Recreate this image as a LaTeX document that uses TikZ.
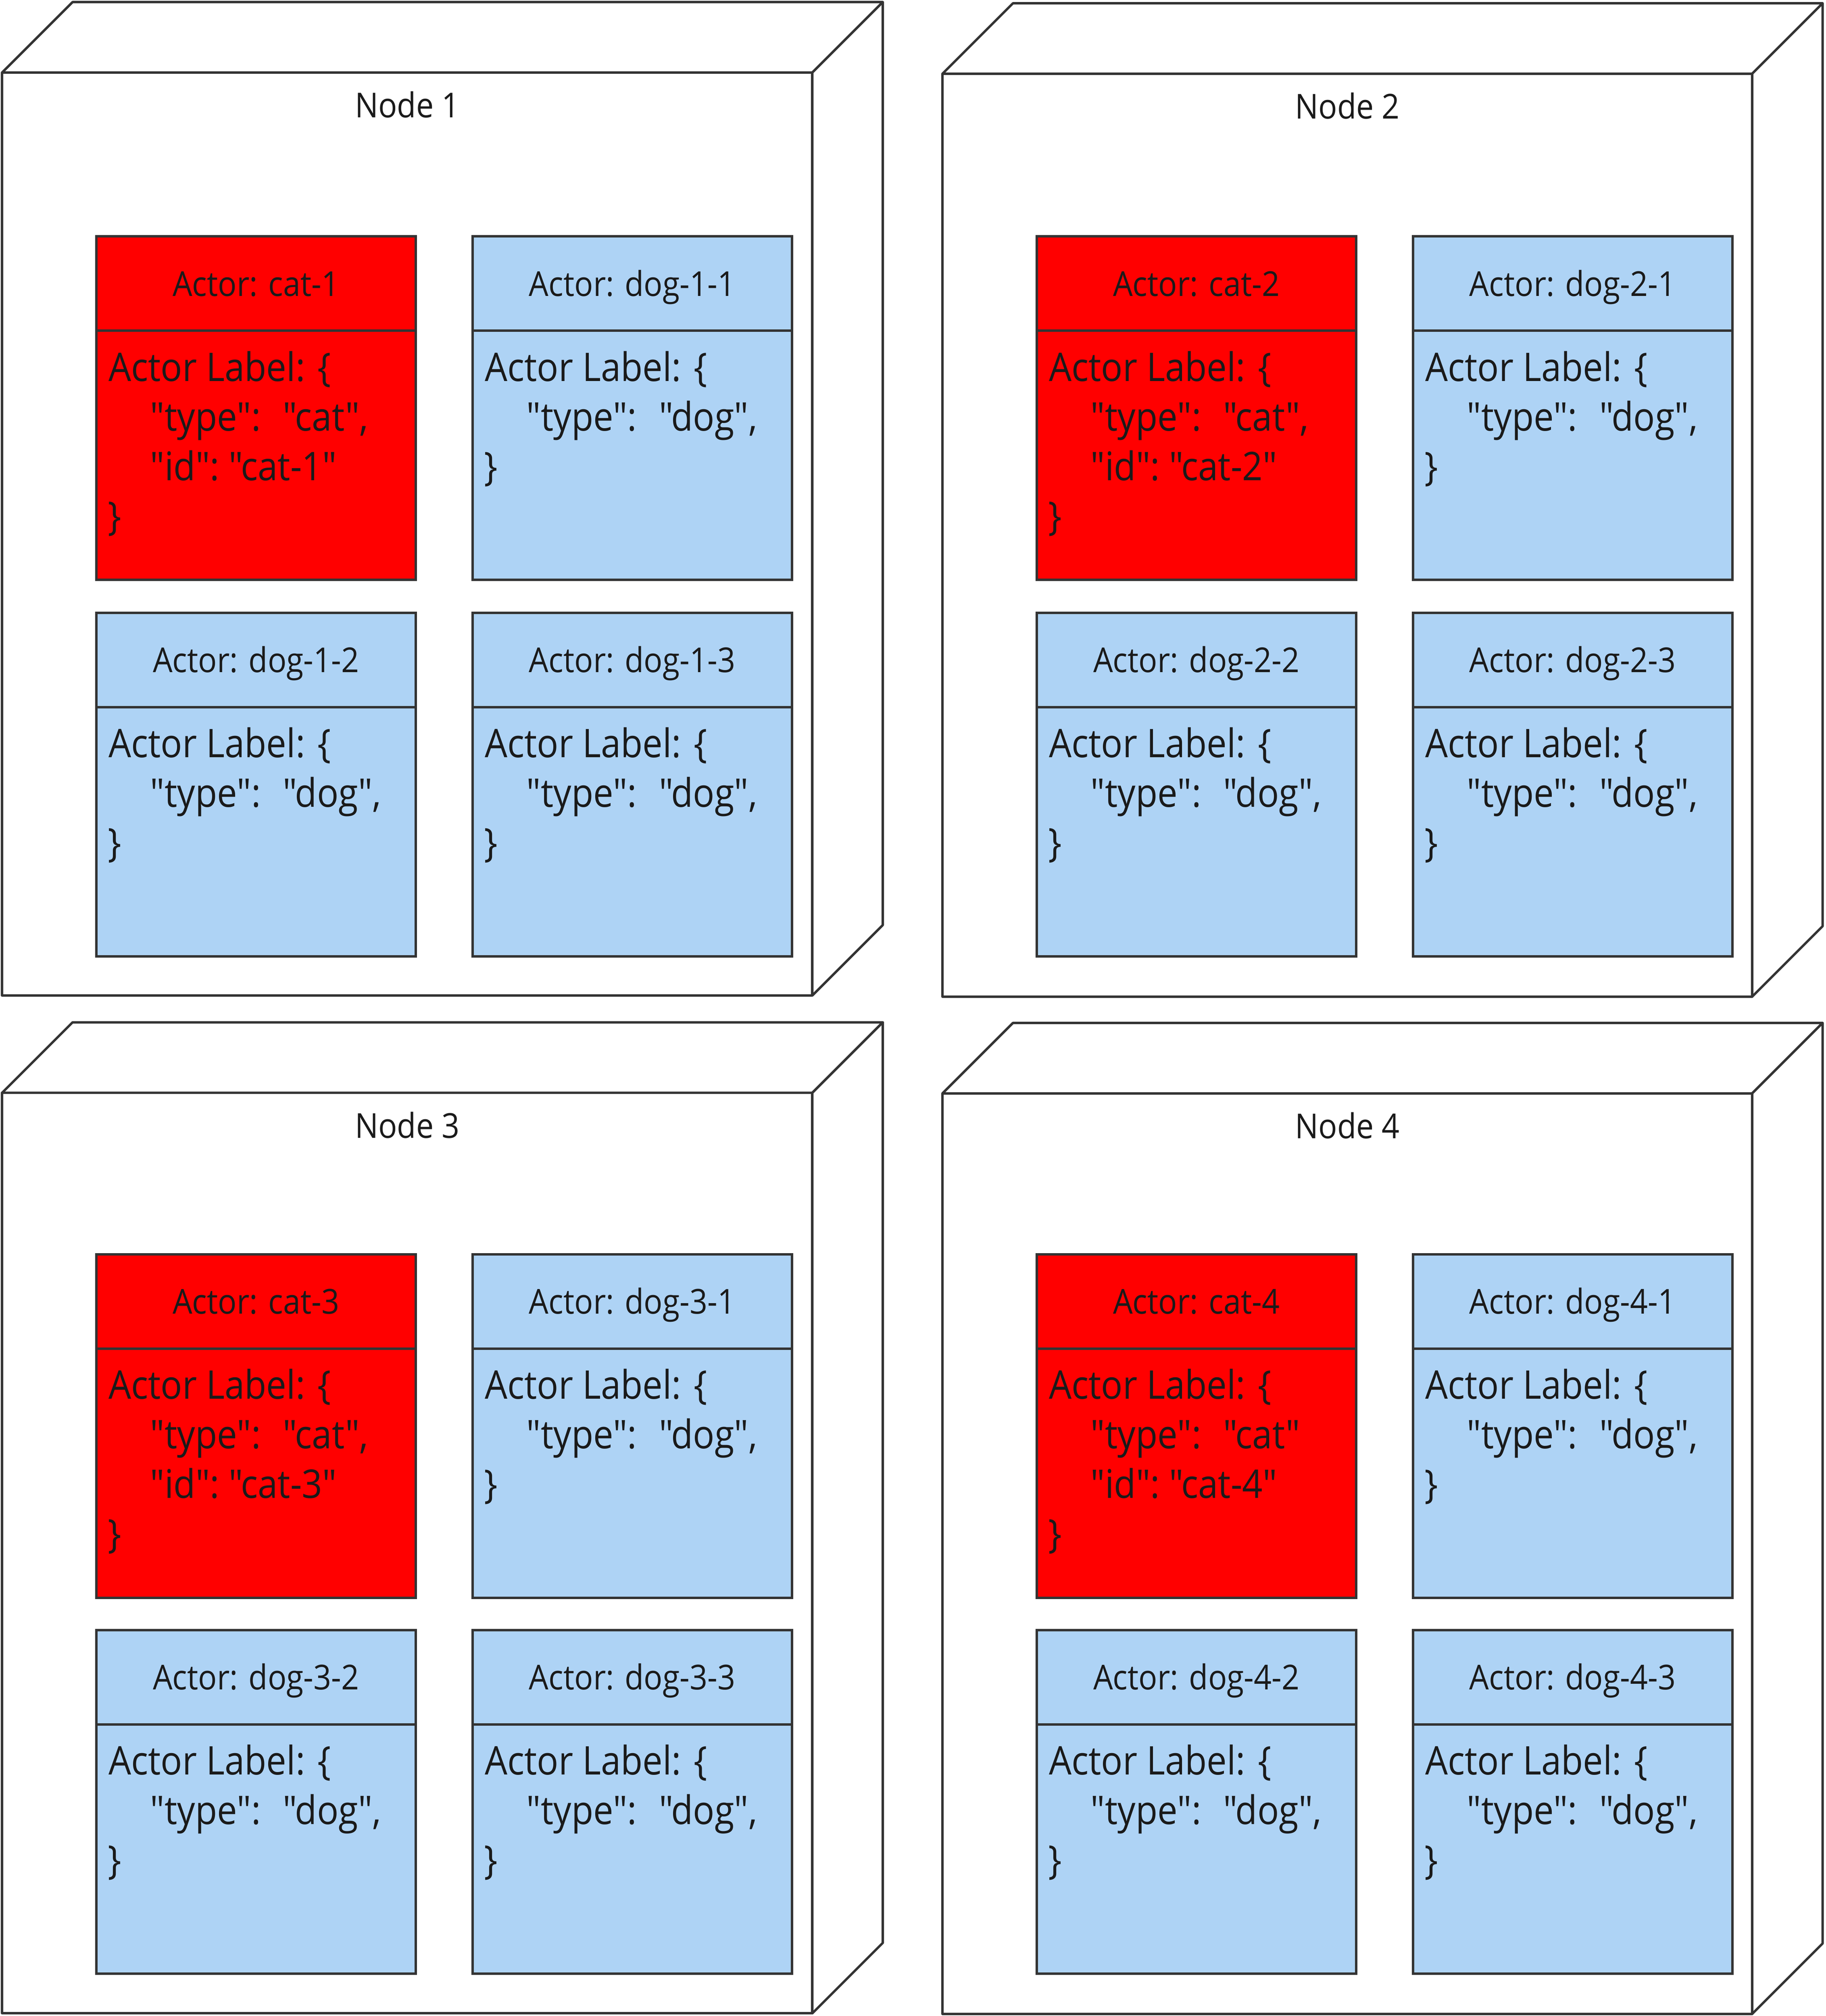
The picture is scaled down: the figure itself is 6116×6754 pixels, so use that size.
\documentclass[tikz,border=0pt]{standalone}
\usepackage{fontspec}
\setmainfont{Open Sans}[FakeStretch=0.905, Ligatures=TeXOff]
\definecolor{strokec}{HTML}{333333}
\definecolor{catred}{HTML}{FF0000}
\definecolor{dogblue}{HTML}{AED3F5}
\definecolor{txt}{HTML}{1A1A1A}
\newcommand\qq{\symbol{"22}}
\tikzset{
  edge3d/.style={draw=strokec, line width=0.08cm, line join=round, fill=white},
  actorbox/.style={draw=strokec, line width=0.08cm, rectangle, anchor=north west,
    inner sep=0pt, outer sep=0pt, minimum width=10.69cm, minimum height=11.5cm},
  titletext/.style={inner sep=0pt, anchor=base, text=txt, font=\fontsize{32.7}{39}\selectfont},
  bodytext/.style={inner sep=0pt, anchor=base west, text=txt, font=\fontsize{37.6}{45}\selectfont},
  divider/.style={draw=strokec, line width=0.08cm},
}
% 3D deployment node: #1 id, #2 x0, #3 y0, #4 x1, #5 y1, #6 label
\newcommand\nodecube[6]{%
  \draw[edge3d] (#2,#3) rectangle (#4,#5);
  \draw[edge3d] (#2,#3) -- (#2+236,#3-236) -- (#4+236,#3-236) -- (#4,#3) -- cycle;
  \draw[edge3d] (#4,#3) -- (#4+236,#3-236) -- (#4+236,#5-236) -- (#4,#5) -- cycle;
  \node[titletext] (#1-label) at ({(#2+#4)/2},#3+151) {#6};
}
% actor box: #1 id, #2 x, #3 top, #4 fill, #5 title
\newcommand\actorhead[5]{%
  \node[actorbox, fill=#4] (#1) at (#2,#3) {};
  \draw[divider] ([yshift=-3.16cm]#1.north west) -- ([yshift=-3.16cm]#1.north east);
  \node[titletext] (#1-title) at (#2+534.5,#3+200) {#5};
}
\newcommand\bodyline[4]{\node[bodytext] (#1) at (#2,#3) {#4};}
% cat body: #1 id, #2 x, #3 top, #4 type line, #5 id line
\newcommand\catbody[5]{%
  \bodyline{#1-l1}{#2+40}{#3+485}{Actor Label: \{}
  \bodyline{#1-l2}{#2+180}{#3+651}{#4}
  \bodyline{#1-l3}{#2+180}{#3+817}{#5}
  \bodyline{#1-l4}{#2+38}{#3+983}{\}}
}
% dog body: #1 id, #2 x, #3 top
\newcommand\dogbody[3]{%
  \bodyline{#1-l1}{#2+40}{#3+485}{Actor Label: \{}
  \bodyline{#1-l2}{#2+180}{#3+651}{\qq{}type\qq{}:~~\hspace{0.12cm}\qq{}dog\qq{},}
  \bodyline{#1-l3}{#2+38}{#3+817}{\}}
}
\newcommand\catactor[5]{\actorhead{#1}{#2}{#3}{catred}{Actor: #4}\catbody{#1}{#2}{#3}{#5}{\qq{}id\qq{}:~\qq{}#4\qq{}}}
\newcommand\dogactor[4]{\actorhead{#1}{#2}{#3}{dogblue}{Actor: #4}\dogbody{#1}{#2}{#3}}
\begin{document}
\begin{tikzpicture}[x=0.01cm, y=-0.01cm]
  \fill[white] (0,0) rectangle (6116,6754);
  \useasboundingbox (0,0) rectangle (6116,6754);
  % deployment nodes
  \nodecube{n1}{7}{243}{2721}{3335}{Node 1}
  \nodecube{n2}{3157}{247}{5869}{3339}{Node 2}
  \nodecube{n3}{7}{3661}{2721}{6745}{Node 3}
  \nodecube{n4}{3157}{3663}{5869}{6747}{Node 4}
  % Node 1
  \catactor{cat1}{323}{792}{cat-1}{\qq{}type\qq{}:~~\hspace{0.12cm}\qq{}cat\qq{},}
  \dogactor{dog11}{1583}{792}{dog-1-1}
  \dogactor{dog12}{323}{2053}{dog-1-2}
  \dogactor{dog13}{1583}{2053}{dog-1-3}
  % Node 2
  \catactor{cat2}{3473}{792}{cat-2}{\qq{}type\qq{}:~~\hspace{0.12cm}\qq{}cat\qq{},}
  \dogactor{dog21}{4733}{792}{dog-2-1}
  \dogactor{dog22}{3473}{2053}{dog-2-2}
  \dogactor{dog23}{4733}{2053}{dog-2-3}
  % Node 3
  \catactor{cat3}{323}{4202}{cat-3}{\qq{}type\qq{}:~~\hspace{0.12cm}\qq{}cat\qq{},}
  \dogactor{dog31}{1583}{4202}{dog-3-1}
  \dogactor{dog32}{323}{5461}{dog-3-2}
  \dogactor{dog33}{1583}{5461}{dog-3-3}
  % Node 4
  \catactor{cat4}{3473}{4202}{cat-4}{\qq{}type\qq{}:~~\hspace{0.12cm}\qq{}cat\qq{}}
  \dogactor{dog41}{4733}{4202}{dog-4-1}
  \dogactor{dog42}{3473}{5461}{dog-4-2}
  \dogactor{dog43}{4733}{5461}{dog-4-3}
\end{tikzpicture}
\end{document}
